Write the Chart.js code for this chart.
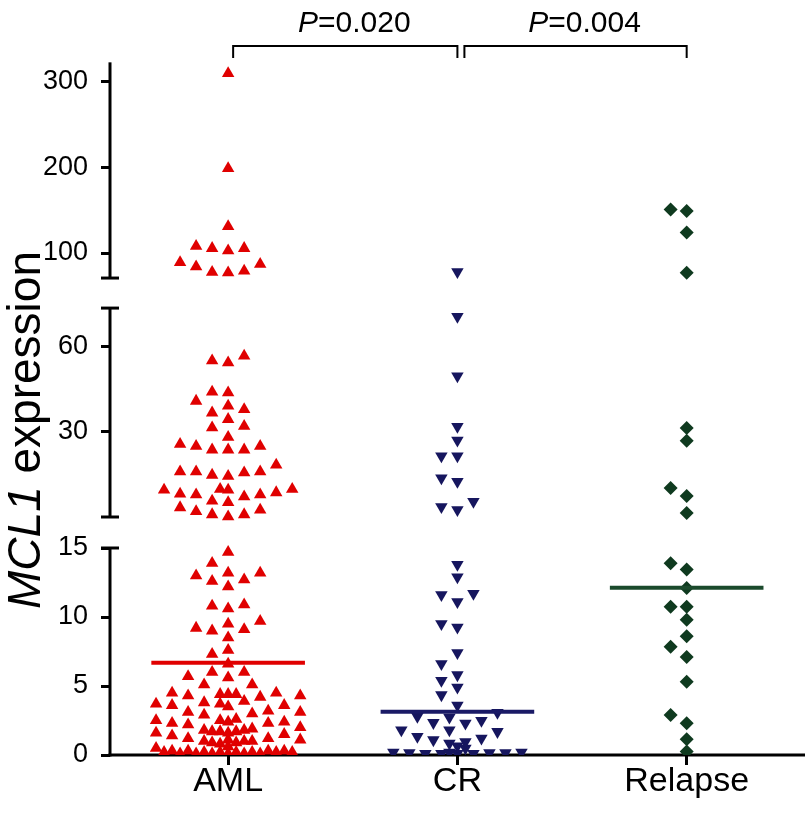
<!DOCTYPE html>
<html><head><meta charset="utf-8">
<script src="https://cdn.jsdelivr.net/npm/chart.js@4.4.1/dist/chart.umd.min.js"></script>
<style>html,body{margin:0;padding:0;background:#fff}#wrap{width:805px;height:828px}</style>
</head><body><div id="wrap"><canvas id="c" width="805" height="828"></canvas></div>
<script>
// ---------- data ----------
const categories = ['AML', 'CR', 'Relapse'];
const amlValues = [
  310, 199, 131, 105.5, 102.7, 105.5, 108, 89, 84, 77.5, 77, 79, 87,
  55.6, 52.6, 53.5, 41.2, 41.5, 38.5, 37.0, 36.0, 35.0, 33.2, 31.0, 31.4,
  27.1, 26.7, 25.9, 25.9, 25.9, 26.7, 28.7, 22.9, 21.7, 21.5, 20.9, 21.1, 21.7, 21.7,
  18.8, 18.7, 18.1, 18.0, 17.7, 18.0, 18.3, 18.7, 18.8, 16.9, 17.1,
  15.9, 15.3, 15.05, 15.3, 15.7, 16.2,
  14.7, 13.9, 13.2, 12.7, 12.6, 13.0, 13.2, 12.2, 10.8, 10.6, 10.9, 9.7, 9.5, 9.2, 9.0, 9.1,
  8.5, 7.6, 7.3, 6.6, 6.0, 5.6, 5.7, 6.0, 5.1, 5.1,
  4.5, 4.3, 4.4, 4.2, 4.4, 4.3, 4.5, 4.4,
  3.8, 3.7, 3.6, 3.7, 3.9, 3.5, 3.6,
  3.1, 3.0, 3.2, 2.9, 3.1,
  2.5, 2.4, 2.3, 2.6, 2.4, 2.2, 2.5, 2.3,
  1.7, 1.8, 1.6, 1.7, 1.9, 1.5, 1.7, 1.8, 1.6,
  1.0, 1.1, 0.9, 1.2, 1.0, 0.8, 1.1, 0.9, 1.0, 1.2,
  0.2, 0.1, 0.3, 0.2, 0.1, 0.2, 0.3, 0.1, 0.2, 0.2, 0.1, 0.3, 0.2, 0.1, 0.2, 0.3, 0.1,
  0.5, 0.6, 1.4, 2.0
];
const crValues = [
  78, 76.5, 47.2, 31.3, 28.0, 24.6, 24.6, 20.6, 20.0, 17.0, 15.9, 16.3,
  13.8, 12.9, 11.7, 11.1, 11.6, 9.5, 9.25, 7.4, 6.6, 5.8, 5.4, 4.9, 4.35, 3.6, 3.07,
  2.73, 2.49, 2.30, 2.78, 2.34, 1.81, 1.69, 1.81, 1.33, 1.09, 0.85, 0.96, 1.21, 0.65, 0.49,
  0.1, 0.2, 0.15, 0.1, 0.2, 0.1, 0.15, 0.2, 0.1, 0.15
];
const relapseValues = [
  151, 149, 124, 77, 30.9, 27.9, 19.0, 17.8, 15.5,
  13.9, 13.45, 12.1, 10.75, 10.75, 9.8, 8.6, 7.85, 7.1, 5.3, 2.9, 2.3, 1.15, 0.25
];
const medians = [6.69, 3.14, 12.12];
const yTickValues = [0, 5, 10, 15, 30, 60, 100, 200, 300];
const pValues = ['0.020', '0.004'];

// ---------- broken axis transform (value -> axis units) ----------
const segments = [
  { lo: 0, hi: 15, f: v => v * 13.8 },                              // linear 0-15
  { lo: 15, hi: 82, f: v => 238 + 85.25 * Math.log2(v / 15) },      // log 15-82
  { lo: 70.7, hi: 323, f: v => 502 + (v - 100) * 0.855 }            // linear 70-323
];
const SPLIT_MID_TOP = 77;
function tf(v) {
  if (v <= 15) return segments[0].f(v);
  if (v < SPLIT_MID_TOP) return segments[1].f(v);
  return segments[2].f(v);
}

// ---------- beeswarm layout (computed from values) ----------
const X_MIN = 0.4847, X_MAX = 3.4847, PX_PER_X = 229;
function swarm(values, cat) {
  const pts = values.map(v => ({ v, t: tf(v) })).sort((a, b) => a.t - b.t);
  const placed = [];
  const cands = [0];
  for (let k = 1; k <= 12; k++) { cands.push(-8 * k, 8 * k); }
  for (const p of pts) {
    let dx = null;
    for (const c of cands) {
      if (Math.abs(c) > 72) continue;
      if (placed.every(q => Math.abs(q.dx - c) >= 16 || Math.abs(q.t - p.t) >= 12)) { dx = c; break; }
    }
    if (dx === null) {
      for (const c of cands) {
        if (Math.abs(c) > 72) continue;
        if (placed.every(q => Math.abs(q.dx - c) >= 8 || Math.abs(q.t - p.t) >= 6)) { dx = c; break; }
      }
    }
    if (dx === null) {
      let best = 0, bestN = 1e9;
      for (const c of cands) {
        if (Math.abs(c) > 72) continue;
        const n = placed.filter(q => Math.abs(q.dx - c) < 8 && Math.abs(q.t - p.t) < 6).length;
        if (n < bestN) { bestN = n; best = c; }
      }
      dx = best;
    }
    placed.push({ dx, t: p.t });
  }
  return placed.map(q => ({ x: cat + q.dx / PX_PER_X, y: q.t }));
}

const FONT = '"Liberation Sans", Arial, Helvetica, sans-serif';
const colors = ['#e00000', '#16165e', '#0f3a1f'];
const lineColors = ['#e00000', '#1a1a66', '#1b4a2c'];

const medianSets = medians.map((m, i) => ({
  type: 'line',
  data: [{ x: i + 1 - 0.335, y: tf(m) }, { x: i + 1 + 0.335, y: tf(m) }],
  borderColor: lineColors[i], borderWidth: 4, pointRadius: 0, order: 0
}));

const pointSets = [
  { data: swarm(amlValues, 1), pointStyle: 'triangle', rotation: 0 },
  { data: swarm(crValues, 2), pointStyle: 'triangle', rotation: 180 },
  { data: swarm(relapseValues, 3), pointStyle: 'rectRot', rotation: 0 }
].map((d, i) => ({
  type: 'scatter', data: d.data, pointStyle: d.pointStyle, rotation: d.rotation,
  pointRadius: i === 2 ? 7 : 7.2, backgroundColor: colors[i], borderColor: colors[i],
  borderWidth: 0, order: 1
}));

// ---------- custom drawing: axes lines (under marks), title, brackets ----------
const deco = {
  id: 'deco',
  beforeDatasetsDraw(chart) {
    const ctx = chart.ctx, ys = chart.scales.y;
    const left = chart.chartArea.left, bottom = chart.chartArea.bottom;
    ctx.save();
    ctx.strokeStyle = '#000'; ctx.lineWidth = 3; ctx.lineCap = 'butt';
    ctx.beginPath(); ctx.moveTo(left - 1.5, bottom); ctx.lineTo(chart.width, bottom); ctx.stroke();
    segments.forEach((s, i) => {
      const y0 = ys.getPixelForValue(s.f(s.lo)), y1 = ys.getPixelForValue(s.f(s.hi));
      ctx.beginPath(); ctx.moveTo(left, y0 + (i === 0 ? 1.5 : 0)); ctx.lineTo(left, y1); ctx.stroke();
      const caps = [];
      if (i > 0) caps.push(y0);
      if (i < segments.length - 1) caps.push(y1);
      caps.forEach(y => { ctx.beginPath(); ctx.moveTo(left - 9, y); ctx.lineTo(left + 9, y); ctx.stroke(); });
    });
    ctx.restore();
  },
  afterDraw(chart) {
    const ctx = chart.ctx, xs = chart.scales.x;
    ctx.save();
    ctx.fillStyle = '#000'; ctx.strokeStyle = '#000';
    // y title
    ctx.translate(40, 430); ctx.rotate(-Math.PI / 2);
    ctx.textBaseline = 'alphabetic';
    const fIt = 'italic 46px ' + FONT, fN = '46px ' + FONT;
    ctx.font = fIt; const w1 = ctx.measureText('MCL1').width;
    ctx.font = fN; const w2 = ctx.measureText(' expression').width;
    let x0 = -(w1 + w2) / 2;
    ctx.font = fIt; ctx.fillText('MCL1', x0, 0);
    ctx.font = fN; ctx.fillText(' expression', x0 + w1, 0);
    ctx.setTransform(1, 0, 0, 1, 0, 0);
    // brackets
    const brackets = [[xs.getPixelForValue(1) + 5, xs.getPixelForValue(2)], [xs.getPixelForValue(2) + 7, xs.getPixelForValue(3)]];
    ctx.lineWidth = 2;
    brackets.forEach((b, i) => {
      ctx.beginPath(); ctx.moveTo(b[0], 58); ctx.lineTo(b[0], 46); ctx.lineTo(b[1], 46); ctx.lineTo(b[1], 58); ctx.stroke();
      const cx = (b[0] + b[1]) / 2 + 9;
      const fI = 'italic 30px ' + FONT, fR = '30px ' + FONT;
      ctx.font = fI; const a = ctx.measureText('P').width;
      ctx.font = fR; const b2 = ctx.measureText('=' + pValues[i]).width;
      const sx = cx - (a + b2) / 2;
      ctx.textBaseline = 'alphabetic';
      ctx.font = fI; ctx.fillText('P', sx, 32);
      ctx.font = fR; ctx.fillText('=' + pValues[i], sx + a, 32);
    });
    ctx.restore();
  }
};

new Chart(document.getElementById('c'), {
  data: { datasets: [...medianSets, ...pointSets] },
  options: {
    responsive: false, animation: false, devicePixelRatio: 1,
    layout: { padding: { top: 62, right: 0, left: 0, bottom: 0 } },
    plugins: { legend: { display: false }, tooltip: { enabled: false } },
    scales: {
      x: {
        type: 'linear', min: X_MIN, max: X_MAX,
        afterBuildTicks: s => { s.ticks = [1, 2, 3].map(v => ({ value: v })); },
        afterFit: s => { s.height = 73; },
        ticks: { callback: v => categories[v - 1], font: { size: 34, family: FONT }, color: '#000', padding: -4, autoSkip: false, maxRotation: 0 },
        grid: { drawOnChartArea: false, drawTicks: true, tickLength: 10, color: '#000', lineWidth: 3 },
        border: { display: false }
      },
      y: {
        type: 'linear', min: 0, max: 693,
        afterBuildTicks: s => { s.ticks = yTickValues.map(v => ({ value: tf(v) })); },
        afterFit: s => { s.width = 110; },
        ticks: { callback: (v, i) => String(yTickValues[i]), font: { size: 27, family: FONT }, color: '#000', padding: 13, autoSkip: false },
        grid: { drawOnChartArea: false, drawTicks: true, tickLength: 9, color: '#000', lineWidth: 3 },
        border: { display: false }
      }
    }
  },
  plugins: [deco]
});
</script></body></html>
